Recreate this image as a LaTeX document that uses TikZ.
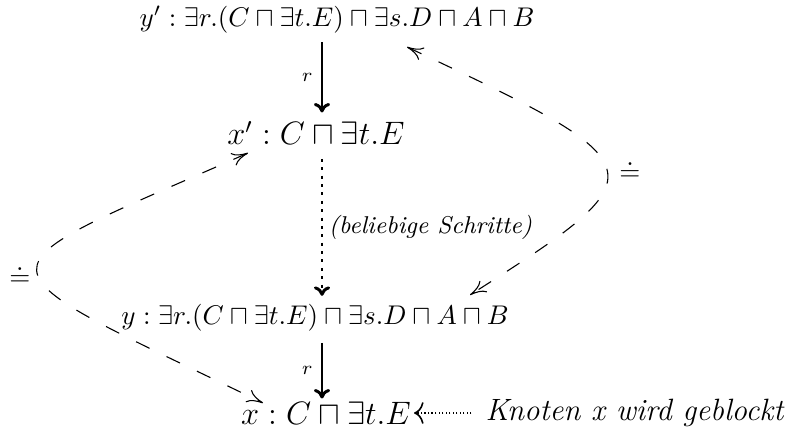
\documentclass[tikz,border=0pt]{standalone}
\usepackage{amssymb}
\usetikzlibrary{arrows.meta}
\begin{document}
\begin{tikzpicture}[x=0.37pt,y=-0.37pt,
  lbl/.style={inner sep=0pt},
  big/.style={inner sep=0pt,font=\large},
  rarrow/.style={-{To[length=3.5pt,width=6pt]},line width=1.1pt},
  steps/.style={-{To[length=3.5pt,width=6pt]},line width=1.1pt,dotted},
  eqlink/.style={{To[length=6pt,width=5pt]}-{To[length=6pt,width=5pt]},dash pattern=on 5.5pt off 7pt},
  blockarrow/.style={-{To[length=3.5pt,width=8pt,line width=0.6pt]},line width=1.1pt,dash pattern=on 0.5pt off 0.8pt,shorten >=1pt,shorten <=5pt}]
\useasboundingbox (0,0) rectangle (794,437);
\node[lbl] (yp) at (337,20) {$y' : \exists r.(C \sqcap \exists t.E) \sqcap \exists s.D \sqcap A \sqcap B$};
\node[big] (xp) at (316,133) {$x' : C \sqcap \exists t.E$};
\node[lbl] (y) at (315,318) {$y : \exists r.(C \sqcap \exists t.E) \sqcap \exists s.D \sqcap A \sqcap B$};
\node[big] (x) at (326,413) {$x : C \sqcap \exists t.E$};
\node[lbl,anchor=west,font=\fontsize{11.4}{13}\selectfont] (kn) at (485,413) {\textit{Knoten x wird geblockt}};
\coordinate (ax) at (322,0);
\draw[rarrow] ([yshift=-3pt]yp.south -| ax) -- node[left,font=\scriptsize,inner sep=3pt]{$r$} ([yshift=3pt]xp.north -| ax);
\draw[rarrow] ([yshift=-4pt]y.south -| ax) -- node[left,font=\scriptsize,inner sep=3pt]{$r$} ([yshift=1pt]x.north -| ax);
\draw[steps] ([yshift=-5pt]xp.south -| ax) -- node[right,font=\small,inner sep=2pt]{\textit{(beliebige Schritte)}} ([yshift=3pt]y.north -| ax);
\draw[blockarrow] (kn.west) -- (x.east);
\coordinate (rt1) at (407,47);
\coordinate (rt2) at (470,295);
\coordinate (lt1) at (248,153);
\coordinate (lt2) at (263,403);
\draw[eqlink] (rt1) .. controls (663,167) and (663,172) .. (rt2);
\draw[eqlink] (lt1) .. controls (-36,278) and (-36,258) .. (lt2);
\node[lbl] (eqr) at (630,170) {$\doteq$};
\node[lbl] (eql) at (20,275) {$\doteq$};
\end{tikzpicture}
\end{document}
